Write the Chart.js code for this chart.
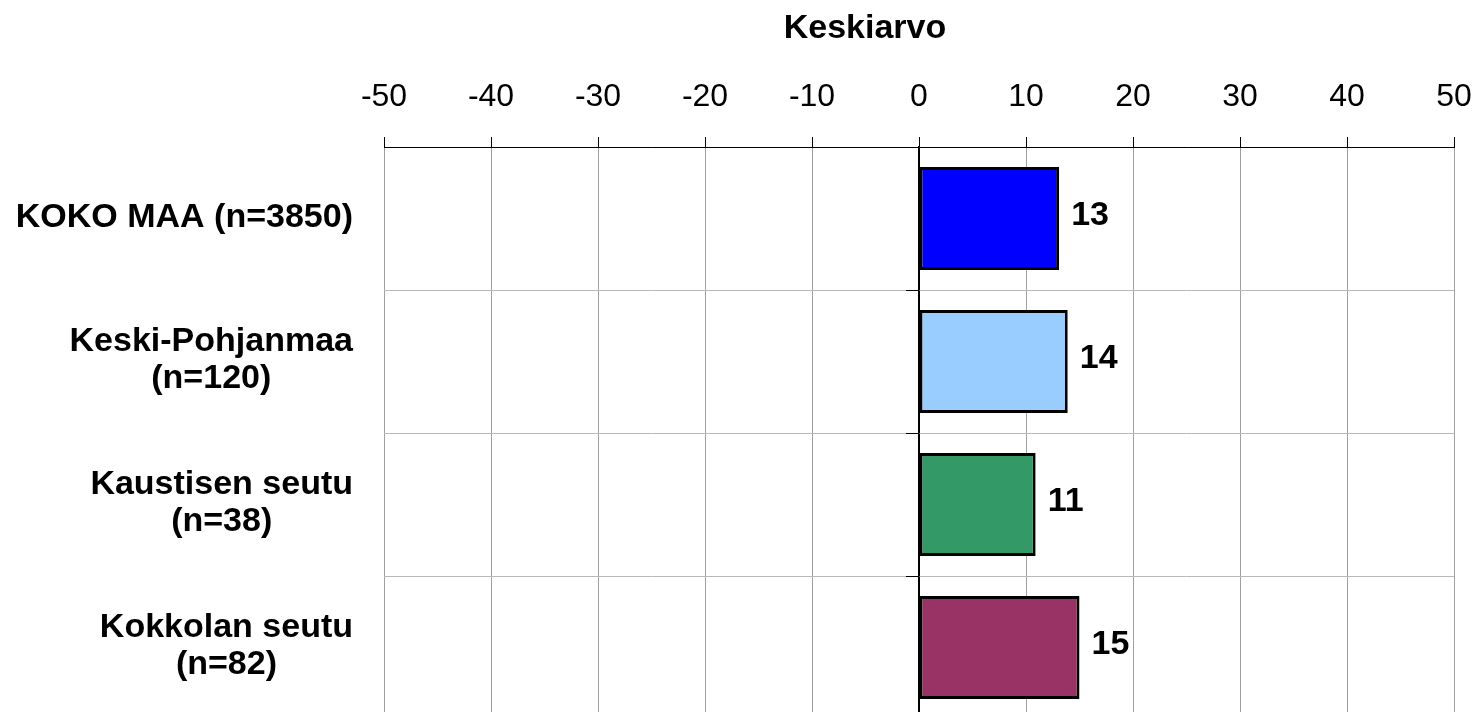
<!DOCTYPE html>
<html>
<head>
<meta charset="utf-8">
<title>Keskiarvo</title>
<script src="https://cdn.jsdelivr.net/npm/chart.js@4/dist/chart.umd.min.js"></script>
<style>
  html, body { margin: 0; padding: 0; background: #fff; overflow: hidden; }
  #wrap { width: 1477px; height: 712px; overflow: hidden; }
  canvas { display: block; }
</style>
</head>
<body>
<!-- plot runs slightly past the bottom edge in the original, so the canvas is a bit taller than the view -->
<div id="wrap"><canvas id="chart" width="1477" height="719"></canvas></div>
<script>
// ── data ──────────────────────────────────────────────────────────────────
const categories = [
  ['KOKO MAA (n=3850)'],
  ['Keski-Pohjanmaa', '(n=120)'],
  ['Kaustisen seutu', '(n=38)'],
  ['Kokkolan seutu', '(n=82)']
];
const values     = [13.1, 13.9, 10.9, 15.0];
const barColors  = ['#0000ff', '#99ccff', '#339966', '#993366'];
const axisTitle  = 'Keskiarvo';
const xMin = -50, xMax = 50, xStep = 10;

const FONT = '"Liberation Sans", Arial, sans-serif';

// ── title + category labels (right-aligned block, lines centred in it) ────
const textLayer = {
  id: 'textLayer',
  afterDraw(chart) {
    const { ctx, chartArea } = chart;
    const y = chart.scales.y;
    ctx.save();
    ctx.font = 'bold 34px ' + FONT;
    ctx.fillStyle = '#000';
    ctx.textAlign = 'center';
    ctx.textBaseline = 'middle';

    // axis title sits a bit left of the plot centre in the original
    ctx.fillText(axisTitle, (chartArea.left + chartArea.right) / 2 - 54, 29);

    const right = chartArea.left - 31;
    const lh = 37;
    categories.forEach((lines, i) => {
      const cy = y.getPixelForValue(i) - 1;
      const w = Math.max(...lines.map(l => ctx.measureText(l).width));
      const cx = right - w / 2;
      const y0 = cy - (lines.length - 1) * lh / 2;
      lines.forEach((l, j) => ctx.fillText(l, cx, y0 + j * lh));
    });
    ctx.restore();
  }
};

// ── value labels next to bar ends ─────────────────────────────────────────
const valueLabels = {
  id: 'valueLabels',
  afterDatasetsDraw(chart) {
    const { ctx } = chart;
    const meta = chart.getDatasetMeta(0);
    ctx.save();
    ctx.font = 'bold 34px ' + FONT;
    ctx.fillStyle = '#000';
    ctx.textAlign = 'left';
    ctx.textBaseline = 'middle';
    meta.data.forEach((bar, i) => {
      ctx.fillText(Math.round(values[i]), bar.x + 12, bar.y - 3);
    });
    ctx.restore();
  }
};

new Chart(document.getElementById('chart'), {
  type: 'bar',
  data: {
    labels: categories.map(c => c.join(' ')),
    datasets: [{
      data: values,
      backgroundColor: barColors,
      borderColor: '#000',
      borderWidth: 3,
      borderSkipped: false,
      barPercentage: 0.72,
      categoryPercentage: 1
    }]
  },
  options: {
    indexAxis: 'y',
    responsive: false,
    animation: false,
    layout: { padding: { left: 384, right: 23, top: 0, bottom: 0 } },
    scales: {
      x: {
        position: 'top',
        min: xMin, max: xMax,
        afterFit(scale) {
          scale.height = 147;
          scale.paddingLeft = 0;
          scale.paddingRight = 0;
        },
        ticks: {
          stepSize: xStep,
          color: '#000',
          padding: 21,
          font: { family: FONT, size: 32 }
        },
        grid: {
          color: ctx => (ctx.tick && ctx.tick.value === 0) ? '#000' : '#a0a0a0',
          tickColor: '#000',
          tickLength: 10,
          lineWidth: 1
        },
        border: { display: true, color: '#000', width: 1 }
      },
      y: {
        position: { x: 0 },
        ticks: { display: false },
        grid: {
          offset: true,
          color: '#b8b8b8',
          tickColor: '#000',
          tickLength: 12,
          lineWidth: 1
        },
        border: { display: true, color: '#000', width: 1.5 }
      }
    },
    plugins: {
      legend: { display: false },
      tooltip: { enabled: false }
    }
  },
  plugins: [textLayer, valueLabels]
});
</script>
</body>
</html>
